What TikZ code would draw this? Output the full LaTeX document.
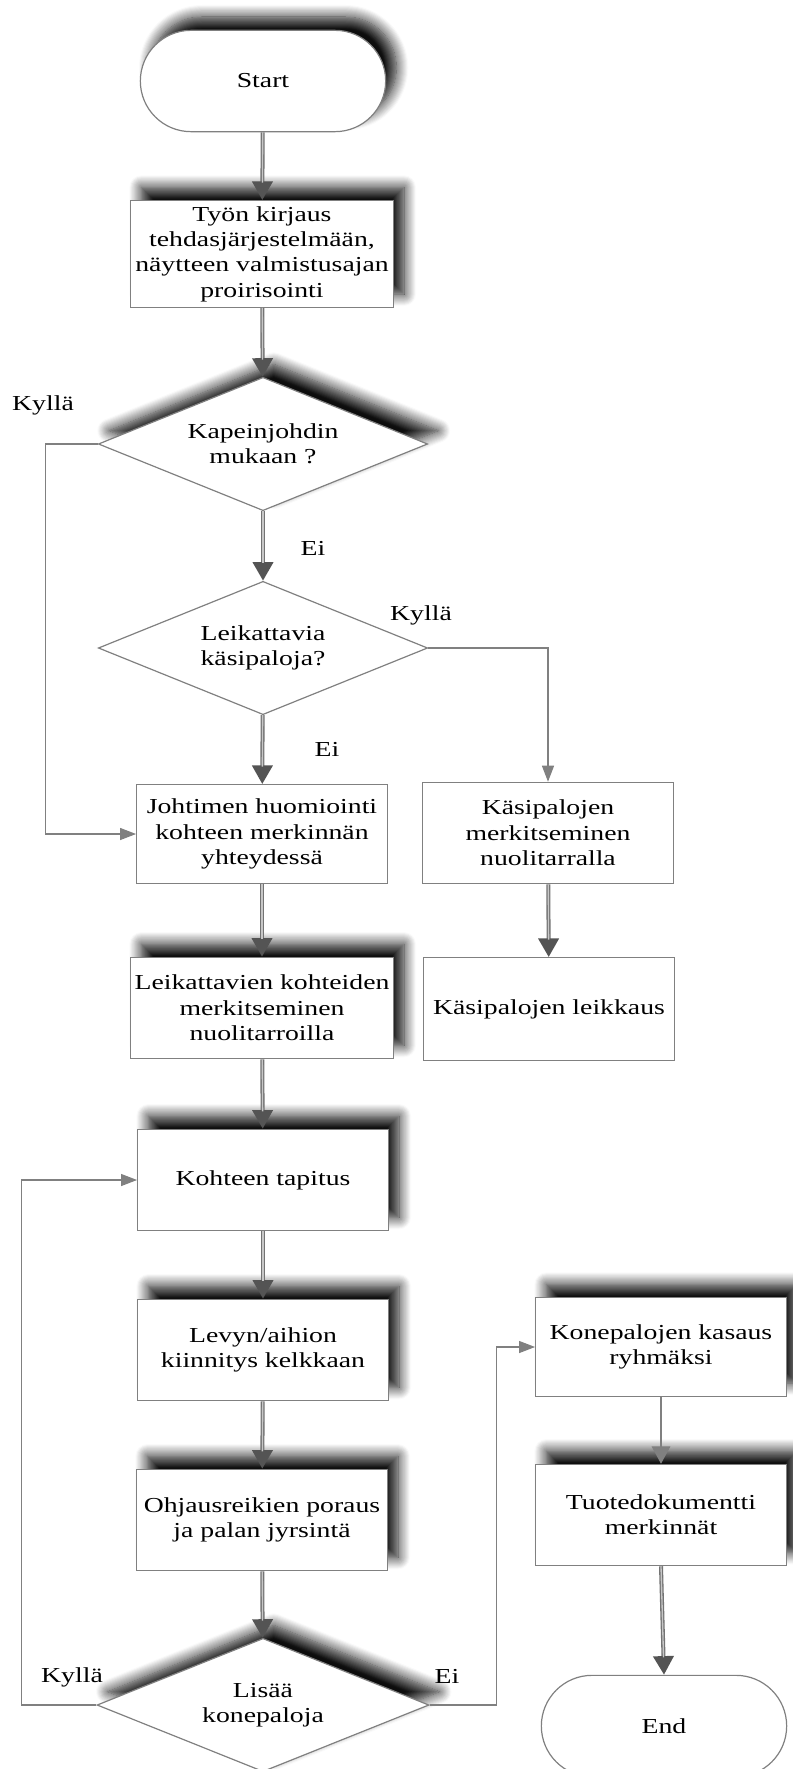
\documentclass[tikz,border=0pt]{standalone}
\usepackage{fontspec}
\setmainfont{Liberation Serif}[FakeStretch=1.3]
\usetikzlibrary{shapes.geometric,shapes.misc,arrows.meta,shadows.blur}
\definecolor{edgegray}{gray}{0.5}
\definecolor{flowgray}{gray}{0.45}
\definecolor{flowlight}{gray}{0.78}
\definecolor{headgray}{gray}{0.33}
\tikzset{
  base/.style={draw=edgegray, line width=0.9pt, fill=white, align=center, inner sep=2pt,
               font=\fontsize{16pt}{19pt}\selectfont},
  term/.style={base, rounded rectangle, minimum width=188pt, minimum height=76pt},
  box/.style={base, rectangle, minimum width=188pt, minimum height=76pt},
  wbox/.style={box, minimum width=197pt},
  dec/.style={base, diamond, aspect=2.5, inner sep=0pt, minimum width=247pt, minimum height=100pt},
  shd/.style={blur shadow={shadow xshift=8pt, shadow yshift=10pt,
              shadow blur radius=9pt, shadow blur steps=12, shadow opacity=95}},
  lbl/.style={font=\fontsize{16pt}{19pt}\selectfont, inner sep=0pt},
  flow/.style={draw=flowgray, line width=3pt, -{Triangle[length=14pt,width=15pt,color=headgray]},
               postaction={draw=flowlight, line width=1pt, -, shorten >=13pt}},
  ed/.style={draw=edgegray, line width=0.9pt, -{Triangle[length=12pt,width=9pt]}}
}
\begin{document}
\begin{tikzpicture}[x=0.75pt, y=-0.75pt]
\useasboundingbox (0,0) rectangle (792,1769);
% main column
\node[term, shd] (start) at (263,81) {Start};
\node[wbox, shd, minimum height=80pt] (kirjaus) at (262,254)
  {Työn kirjaus\\tehdasjärjestelmään,\\näytteen valmistusajan\\proirisointi};
\node[dec, shd] (kapein) at (263,444) {Kapeinjohdin\\mukaan ?};
\node[dec] (leikk) at (263,648) {Leikattavia\\käsipaloja?};
\node[box, minimum height=74pt] (johtimen) at (262,834)
  {Johtimen huomiointi\\kohteen merkinnän\\yhteydessä};
\node[wbox, shd] (kohteet) at (262,1008)
  {Leikattavien kohteiden\\merkitseminen\\nuolitarroilla};
\node[box, shd] (tapitus) at (263,1180) {Kohteen tapitus};
\node[box, shd] (levyn) at (263,1350) {Levyn/aihion\\kiinnitys kelkkaan};
\node[box, shd] (ohjaus) at (262,1520) {Ohjausreikien poraus\\ja palan jyrsintä};
\node[dec, shd, minimum width=249pt] (lisaa) at (263,1705) {Lisää\\konepaloja};
% right column
\node[box] (kasimerk) at (548,833) {Käsipalojen\\merkitseminen\\nuolitarralla};
\node[box, minimum height=77pt] (kasileik) at (549,1009) {Käsipalojen leikkaus};
\node[box, shd, minimum height=74pt] (kasaus) at (661,1347) {Konepalojen kasaus\\ryhmäksi};
\node[box, shd] (tuote) at (661,1515) {Tuotedokumentti\\merkinnät};
\node[term] (end) at (664,1726) {End};
% labels
\node[lbl] (k1) at (43,405) {Kyllä};
\node[lbl] (e1) at (313,548) {Ei};
\node[lbl] (k2) at (421,615) {Kyllä};
\node[lbl] (e2) at (327,749) {Ei};
\node[lbl] (k3) at (72,1677) {Kyllä};
\node[lbl] (e3) at (447,1676) {Ei};
% connectors
\draw[flow] (start) -- (kirjaus); \draw[flow] (kirjaus) -- (kapein);
\draw[flow] (kapein) -- (leikk); \draw[flow] (leikk) -- (johtimen);
\draw[flow] (johtimen) -- (kohteet); \draw[flow] (kohteet) -- (tapitus);
\draw[flow] (tapitus) -- (levyn); \draw[flow] (levyn) -- (ohjaus);
\draw[flow] (ohjaus) -- (lisaa);
\draw[flow] (kasimerk) -- (kasileik); \draw[flow] (tuote.south) -- (end.north);
\draw[ed] (kapein.west) -- ++(-52,0) |- (johtimen.west);
\draw[ed] (leikk.east) -| (kasimerk.north);
\draw[ed] (lisaa.west) -- ++(-75,0) |- (tapitus.west);
\draw[ed] (lisaa.east) -- ++(67,0) |- (kasaus.west);
\draw[ed, -{Triangle[length=13pt,width=14pt]}] (kasaus) -- (tuote);
\end{tikzpicture}
\end{document}
